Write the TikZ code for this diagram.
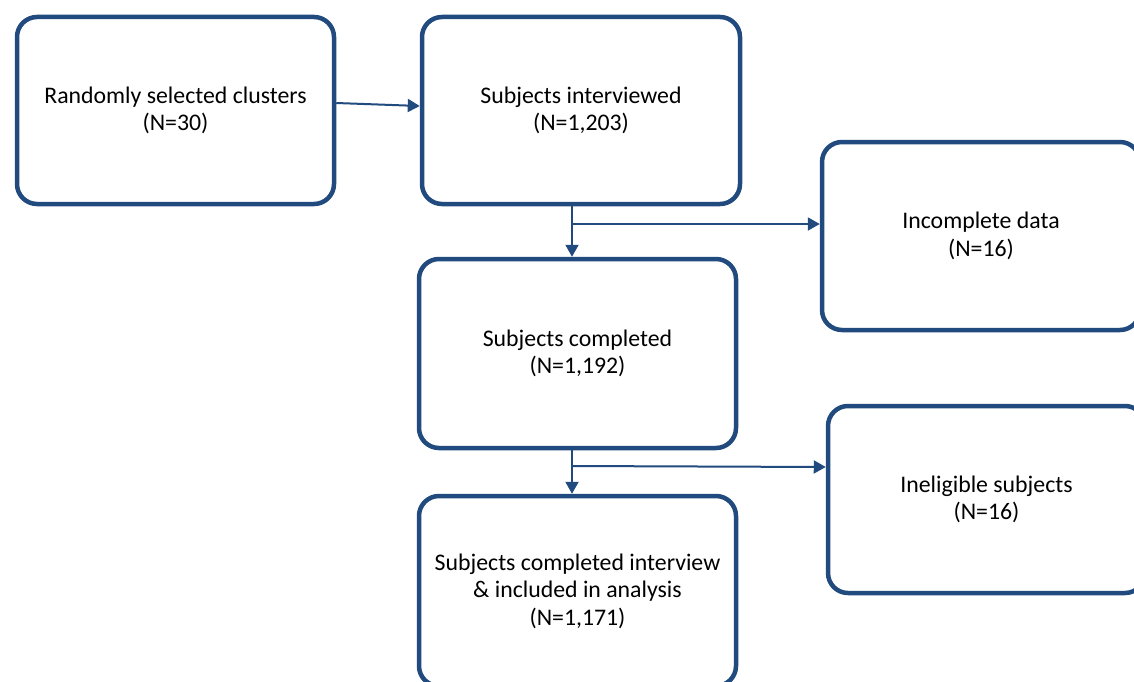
\documentclass[tikz,border=0pt]{standalone}
\usepackage{fontspec}
\setmainfont{Carlito}
\usetikzlibrary{arrows.meta}
\definecolor{boxblue}{RGB}{33,74,126}
\tikzset{
  box/.style={draw=boxblue, line width=4.5pt, rounded corners=20pt, fill=white,
    align=center, font=\fontsize{23.8}{27.5}\selectfont, text=black, inner sep=0pt},
  conn/.style={draw=boxblue, line width=2pt, -{Triangle[length=12pt,width=13pt]}}
}
\begin{document}
\begin{tikzpicture}[x=1pt,y=-1pt]
\useasboundingbox (0,0) rectangle (1134,682);
\clip (0,0) rectangle (1134,682);
\fill[white] (0,0) rectangle (1134,682);
\node[box, minimum width=317pt, minimum height=187pt] (A) at (175.5,110.5) {Randomly selected clusters\\(N=30)};
\node[box, minimum width=318pt, minimum height=187pt] (B) at (581,110.5) {Subjects interviewed\\(N=1,203)};
\node[box, minimum width=318pt, minimum height=188pt] (C) at (981,236) {Incomplete data\\(N=16)};
\node[box, minimum width=317pt, minimum height=189pt] (D) at (577.5,353.5) {Subjects completed\\(N=1,192)};
\node[box, minimum width=317pt, minimum height=190pt] (E) at (577.5,591) {Subjects completed interview\\\& included in analysis\\(N=1,171)};
\node[box, minimum width=317pt, minimum height=187pt] (F) at (986.5,499.5) {Ineligible subjects\\(N=16)};
\coordinate (j1) at (572,224);
\coordinate (j2) at (572,466);
\draw[conn] ([yshift=7.5pt]A.east) -- ([yshift=4.5pt]B.west);
\draw[conn] (B.south -| j1) -- (D.north -| j1);
\draw[conn] (j1) -- (C.west |- j1);
\draw[conn] (D.south -| j2) -- (E.north -| j2);
\draw[conn] (j2) -- ([yshift=-1pt]F.west |- j2);
\end{tikzpicture}
\end{document}
